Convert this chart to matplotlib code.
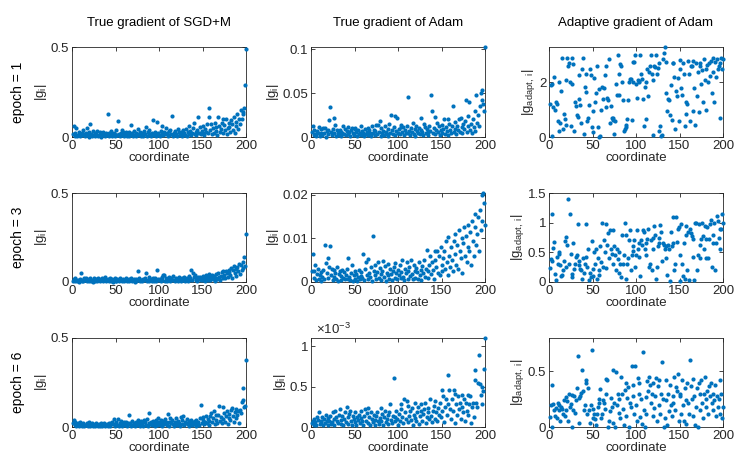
import numpy as np
import matplotlib
matplotlib.use("Agg")
import matplotlib.pyplot as plt

plt.rcParams['font.family'] = ['Liberation Sans', 'DejaVu Sans']
plt.rcParams['mathtext.fontset'] = 'custom'
plt.rcParams['mathtext.rm'] = 'Liberation Sans'
plt.rcParams['mathtext.it'] = 'Liberation Sans:italic'

coords = np.arange(1, 201)

col_titles = ["True gradient of SGD+M", "True gradient of Adam", "Adaptive gradient of Adam"]
row_labels = ["epoch = 1", "epoch = 3", "epoch = 6"]

# ---- epoch 1 ----
sgd_e1 = [15, 63, 8, 22, 50, 5, 12, 30, 3, 18, 25, 9, 40, 14, 6, 20, 50, 11, 2, 28,
          70, 16, 5, 33, 10, 24, 4, 19, 35, 8, 13, 27, 2, 21, 9, 30, 15, 6, 24, 11,
          126, 20, 4, 14, 32, 7, 18, 25, 3, 12, 38, 9, 90, 16, 5, 22, 40, 10, 28, 6,
          14, 30, 3, 19, 8, 26, 12, 65, 20, 5, 35, 11, 24, 7, 17, 43, 9, 29, 4, 15,
          22, 8, 33, 18, 54, 6, 27, 12, 40, 15, 4, 21, 94, 10, 30, 7, 18, 85, 25, 13,
          5, 36, 20, 62, 9, 28, 14, 50, 22, 6, 31, 11, 40, 17, 115, 8, 24, 35, 12, 19,
          7, 43, 26, 10, 30, 16, 5, 38, 21, 12, 45, 8, 27, 60, 15, 33, 9, 24, 48, 79,
          18, 30, 11, 40, 109, 22, 55, 14, 36, 25, 62, 9, 44, 28, 70, 20, 159, 113, 38, 70,
          15, 48, 25, 80, 54, 35, 12, 109, 60, 30, 45, 79, 22, 102, 65, 40, 98, 18, 50, 79,
          55, 30, 95, 70, 40, 110, 25, 85, 60, 130, 45, 100, 75, 150, 100, 140, 130, 160, 290, 490]
adam_e1 = [60, 122, 20, 85, 35, 10, 70, 45, 110, 15, 50, 90, 25, 107, 40, 100, 5, 65, 30, 80,
           189, 336, 55, 20, 95, 214, 40, 137, 10, 75, 50, 25, 85, 15, 60, 45, 122, 30, 90, 20,
           70, 35, 110, 55, 15, 80, 107, 40, 25, 95, 103, 60, 10, 85, 30, 50, 120, 20, 70, 45,
           15, 90, 35, 60, 100, 25, 75, 50, 10, 130, 40, 85, 20, 65, 137, 30, 137, 55, 181, 15,
           100, 45, 70, 25, 120, 60, 35, 90, 10, 150, 50, 252, 80, 30, 110, 244, 20, 65, 214, 45,
           95, 30, 140, 115, 60, 115, 20, 85, 50, 130, 40, 459, 70, 25, 105, 55, 155, 35, 90, 15,
           120, 65, 45, 100, 30, 80, 222, 55, 20, 148, 110, 40, 90, 60, 25, 130, 70, 474, 300, 45,
           100, 229, 30, 85, 160, 55, 120, 20, 75, 140, 50, 95, 210, 35, 110, 65, 25, 210, 150, 80,
           45, 120, 348, 60, 95, 170, 30, 130, 75, 200, 55, 222, 110, 40, 150, 90, 181, 418, 60, 130,
           240, 400, 85, 150, 50, 200, 110, 300, 70, 480, 160, 250, 120, 350, 500, 420, 540, 380, 300, 1020]
adapt_e1 = [122, 189, 196, 5, 110, 219, 98, 128, 122, 60, 23, 201, 52, 170, 290, 31, 85, 67, 45, 210,
            290, 262, 271, 201, 41, 290, 195, 266, 23, 128, 115, 80, 75, 140, 226, 118, 52, 250, 290, 12,
            185, 232, 166, 58, 70, 118, 250, 226, 35, 95, 17, 217, 130, 160, 262, 38, 0, 175, 5, 100,
            184, 140, 178, 226, 110, 262, 142, 135, 287, 52, 115, 70, 68, 63, 12, 60, 196, 155, 300, 153,
            232, 268, 262, 201, 134, 23, 30, 37, 44, 67, 134, 201, 213, 213, 63, 275, 201, 275, 300, 195,
            144, 210, 201, 205, 300, 230, 214, 138, 41, 185, 65, 201, 251, 152, 240, 262, 300, 230, 210, 8,
            260, 257, 300, 230, 254, 270, 23, 41, 5, 8, 287, 307, 330, 160, 275, 95, 140, 136, 80, 190,
            63, 271, 271, 220, 30, 170, 150, 215, 60, 250, 282, 180, 155, 270, 230, 40, 130, 85, 120, 280,
            230, 60, 260, 260, 95, 280, 180, 45, 270, 150, 240, 90, 270, 260, 195, 245, 130, 285, 210, 250,
            100, 265, 200, 270, 225, 280, 160, 290, 240, 130, 275, 220, 285, 250, 260, 70, 270, 290, 250, 285]

# ---- epoch 3 ----
sgd_e3 = [8, 15, 3, 20, 10, 5, 12, 2, 18, 50, 7, 14, 4, 22, 9, 25, 6, 11, 3, 16,
          20, 8, 13, 2, 24, 10, 5, 17, 7, 22, 12, 3, 15, 9, 20, 4, 11, 26, 6, 14,
          18, 3, 10, 23, 7, 15, 2, 12, 20, 8, 5, 16, 11, 3, 22, 9, 14, 6, 18, 4,
          10, 24, 7, 13, 3, 17, 9, 20, 5, 12, 15, 2, 19, 8, 11, 62, 25, 6, 14, 10,
          4, 18, 9, 22, 52, 7, 13, 3, 28, 11, 16, 5, 20, 8, 24, 12, 4, 70, 15, 9,
          18, 6, 27, 13, 38, 40, 8, 20, 4, 15, 30, 11, 6, 22, 9, 32, 14, 4, 25, 10,
          18, 7, 28, 12, 5, 21, 15, 9, 30, 4, 17, 24, 8, 12, 35, 20, 70, 14, 50, 26,
          40, 10, 22, 6, 30, 15, 28, 9, 19, 34, 12, 25, 5, 38, 20, 14, 45, 30, 10, 26,
          40, 18, 32, 8, 44, 22, 15, 50, 28, 12, 35, 55, 20, 62, 40, 25, 60, 48, 30, 55,
          70, 40, 80, 25, 65, 90, 50, 75, 35, 85, 60, 100, 45, 95, 70, 110, 80, 140, 90, 270]
adam_e3 = [25, 65, 10, 25, 40, 5, 18, 30, 8, 15, 22, 3, 12, 28, 6, 85, 44, 20, 10, 55,
           35, 83, 15, 29, 5, 12, 27, 20, 8, 35, 2, 18, 25, 4, 14, 28, 10, 22, 6, 16,
           30, 8, 56, 12, 4, 20, 38, 2, 15, 25, 7, 18, 3, 11, 28, 6, 22, 14, 9, 65,
           4, 30, 45, 17, 8, 52, 20, 12, 35, 3, 106, 25, 15, 40, 7, 22, 45, 10, 32, 18,
           5, 26, 48, 12, 36, 3, 20, 42, 15, 8, 30, 18, 5, 25, 35, 10, 44, 20, 6, 28,
           15, 38, 9, 24, 50, 12, 4, 30, 20, 45, 8, 26, 35, 14, 50, 18, 6, 40, 25, 10,
           33, 22, 8, 45, 15, 28, 5, 36, 20, 50, 12, 30, 74, 25, 10, 40, 60, 18, 45, 28,
           8, 50, 72, 35, 72, 20, 60, 15, 81, 40, 25, 55, 70, 30, 93, 45, 15, 104, 60, 35,
           80, 50, 25, 95, 65, 110, 40, 85, 30, 120, 70, 55, 100, 20, 90, 125, 60, 105, 45, 80,
           130, 70, 115, 40, 140, 95, 60, 125, 155, 85, 110, 150, 70, 165, 120, 200, 140, 205, 180, 130]
adapt_e3 = [24, 39, 115, 35, 58, 68, 14, 3, 42, 30, 50, 48, 28, 10, 12, 20, 35, 69, 25, 76,
            62, 140, 30, 114, 48, 13, 8, 66, 22, 30, 42, 45, 97, 28, 35, 22, 20, 5, 40, 15,
            30, 97, 42, 25, 55, 3, 15, 8, 69, 10, 22, 50, 30, 55, 5, 40, 20, 12, 60, 33,
            100, 25, 70, 50, 24, 98, 62, 82, 40, 88, 55, 48, 30, 88, 60, 45, 20, 55, 38, 15,
            50, 30, 8, 80, 30, 45, 100, 80, 5, 30, 40, 70, 88, 20, 45, 52, 60, 70, 25, 45,
            88, 55, 65, 42, 10, 70, 62, 88, 85, 55, 45, 65, 72, 90, 25, 30, 70, 20, 55, 75,
            95, 80, 5, 25, 60, 75, 65, 96, 85, 35, 65, 62, 55, 60, 40, 12, 63, 55, 2, 85,
            60, 65, 110, 20, 30, 110, 68, 90, 92, 2, 45, 98, 30, 10, 65, 5, 80, 95, 20, 85,
            3, 90, 82, 78, 42, 72, 3, 100, 100, 20, 45, 98, 40, 62, 72, 100, 78, 55, 95, 72,
            40, 92, 40, 72, 98, 105, 25, 80, 65, 100, 20, 65, 112, 102, 75, 55, 90, 90, 115, 100]

# ---- epoch 6 ----
sgd_e6 = [20, 40, 10, 28, 5, 15, 22, 8, 30, 12, 3, 18, 25, 6, 14, 9, 20, 4, 12, 26,
          7, 15, 22, 3, 10, 18, 5, 24, 12, 8, 16, 4, 20, 10, 6, 14, 22, 3, 11, 18,
          8, 25, 12, 4, 20, 30, 15, 43, 8, 18, 28, 10, 43, 5, 22, 35, 12, 6, 18, 26,
          10, 30, 5, 20, 15, 67, 25, 8, 35, 12, 22, 4, 30, 18, 10, 40, 25, 6, 32, 15,
          20, 8, 38, 28, 12, 45, 5, 22, 77, 16, 30, 10, 35, 20, 8, 42, 26, 14, 50, 30,
          10, 40, 22, 6, 35, 18, 45, 28, 12, 75, 30, 8, 48, 20, 38, 15, 5, 30, 22, 50,
          12, 35, 25, 8, 55, 18, 40, 60, 10, 28, 20, 45, 15, 5, 32, 22, 40, 10, 28, 18,
          35, 8, 42, 25, 30, 12, 48, 124, 20, 38, 55, 15, 30, 62, 22, 45, 10, 35, 60, 77,
          28, 50, 90, 15, 40, 65, 25, 70, 118, 35, 55, 20, 110, 45, 80, 30, 60, 88, 15, 50,
          75, 40, 95, 105, 60, 30, 85, 50, 100, 70, 90, 20, 95, 80, 142, 217, 152, 110, 120, 377]
adam_e6 = [5, 8, 3, 10, 6, 2, 12, 9, 19, 4, 8, 6, 12, 3, 10, 5, 15, 7, 2, 11,
           8, 13, 4, 6, 18, 10, 3, 20, 12, 7, 5, 15, 22, 9, 4, 14, 2, 10, 18, 6,
           25, 12, 4, 16, 20, 8, 3, 14, 10, 6, 18, 2, 12, 9, 15, 5, 11, 20, 7, 3,
           14, 22, 8, 17, 24, 5, 12, 3, 19, 10, 6, 15, 9, 2, 13, 18, 7, 4, 11, 24,
           8, 16, 3, 12, 20, 6, 10, 15, 4, 18, 28, 9, 5, 14, 61, 7, 12, 20, 10, 3,
           16, 8, 22, 28, 12, 5, 35, 18, 10, 32, 26, 6, 14, 20, 9, 24, 3, 15, 30, 11,
           7, 18, 25, 4, 13, 20, 28, 8, 16, 22, 30, 5, 12, 24, 18, 10, 35, 14, 6, 20,
           26, 10, 32, 18, 8, 24, 15, 30, 12, 46, 20, 38, 6, 25, 35, 15, 28, 64, 46, 22,
           10, 35, 20, 46, 5, 41, 28, 15, 38, 22, 30, 10, 40, 25, 18, 35, 8, 30, 20, 40,
           15, 28, 38, 5, 25, 30, 12, 70, 58, 30, 25, 55, 89, 53, 40, 28, 50, 45, 72, 110]
adapt_e6 = [9, 20, 38, 0, 21, 15, 10, 17, 8, 22, 20, 15, 5, 18, 16, 12, 24, 10, 27, 15,
            23, 5, 30, 18, 21, 29, 0, 15, 28, 13, 24, 35, 64, 26, 4, 28, 31, 51, 32, 15,
            20, 42, 40, 12, 35, 15, 4, 20, 69, 8, 16, 12, 7, 2, 12, 18, 25, 22, 34, 8,
            12, 24, 22, 16, 43, 30, 42, 0, 5, 14, 26, 18, 51, 4, 22, 0, 49, 20, 30, 13,
            25, 8, 45, 30, 16, 2, 33, 40, 10, 26, 36, 0, 22, 18, 55, 28, 38, 12, 55, 20,
            5, 44, 30, 40, 9, 25, 3, 67, 15, 0, 12, 27, 41, 32, 45, 38, 22, 30, 40, 10,
            17, 28, 44, 5, 37, 20, 42, 12, 30, 58, 25, 0, 8, 42, 24, 2, 30, 14, 38, 20,
            10, 28, 22, 45, 15, 36, 32, 48, 5, 28, 30, 12, 42, 20, 5, 35, 3, 24, 40, 22,
            12, 60, 37, 25, 10, 43, 28, 2, 18, 35, 0, 40, 15, 30, 42, 22, 8, 30, 45, 18,
            25, 32, 12, 37, 28, 40, 22, 15, 30, 24, 38, 10, 28, 18, 25, 42, 12, 30, 8, 18]

# value units of each stored list
panels = [
    [(sgd_e1, 1e-3), (adam_e1, 1e-4), (adapt_e1, 1e-2)],
    [(sgd_e3, 1e-3), (adam_e3, 1e-4), (adapt_e3, 1e-2)],
    [(sgd_e6, 1e-3), (adam_e6, 1e-5), (adapt_e6, 1e-2)],
]
ylims = [[0.5, 0.1025, 3.3], [0.5, 0.0204, 1.5], [0.5, 1.1e-3, 0.8]]
yticks = [
    [[0, 0.5], [0, 0.05, 0.1], [0, 2]],
    [[0, 0.5], [0, 0.01, 0.02], [0, 0.5, 1, 1.5]],
    [[0, 0.5], [0, 0.5e-3, 1e-3], [0, 0.5]],
]
yticklabels = [
    [["0", "0.5"], ["0", "0.05", "0.1"], ["0", "2"]],
    [["0", "0.5"], ["0", "0.01", "0.02"], ["0", "0.5", "1", "1.5"]],
    [["0", "0.5"], ["0", "0.5", "1"], ["0", "0.5"]],
]
ylabels = [r"$\mathregular{|g_i|}$", r"$\mathregular{|g_i|}$", r"$\mathregular{|g_{adapt,\ i}|}$"]
xticks = [0, 50, 100, 150, 200]

W, H = 747, 466
fig = plt.figure(figsize=(W / 100, H / 100), dpi=100)

lefts = [72, 311, 549]
width = 174
tops = [47, 193, 338]
bottoms = [137, 282, 427]
edge = '#262626'
blue = '#0072BD'
fs = 9.5

for r in range(3):
    for c in range(3):
        l = lefts[c]
        ax = fig.add_axes([l / W, 1 - bottoms[r] / H, width / W, (bottoms[r] - tops[r]) / H])
        vals, unit = panels[r][c]
        ax.scatter(coords, np.array(vals) * unit, s=9, color=blue, linewidths=0, zorder=3,
                   clip_on=False)
        ax.set_xlim(0, 200)
        ax.set_ylim(0, ylims[r][c])
        ax.set_xticks(xticks)
        ax.set_xticklabels([str(t) for t in xticks])
        ax.set_yticks(yticks[r][c])
        ax.set_yticklabels(yticklabels[r][c])
        ax.tick_params(direction='in', length=3, width=0.6, colors=edge, labelsize=fs,
                       top=True, right=True, pad=2)
        for sp in ax.spines.values():
            sp.set_color(edge)
            sp.set_linewidth(0.6)
        ax.set_xlabel("coordinate", fontsize=fs, color='#262626', labelpad=0)
        ax.set_ylabel(ylabels[c], fontsize=fs, color='#262626', labelpad=1)
        if r == 0:
            ax.set_title(col_titles[c], fontsize=fs, color='black', pad=15)
        if r == 2 and c == 1:
            ax.text(0.03, 1.01, r"$\mathregular{\times10^{-3}}$", transform=ax.transAxes,
                    fontsize=fs, color=edge, ha='left', va='bottom')

for r in range(3):
    yc = (tops[r] + bottoms[r]) / 2
    fig.text(18 / W, 1 - yc / H, row_labels[r], rotation=90, ha='center', va='center',
             fontsize=fs + 0.5, color='black')

fig.savefig("out.png", dpi=100)
